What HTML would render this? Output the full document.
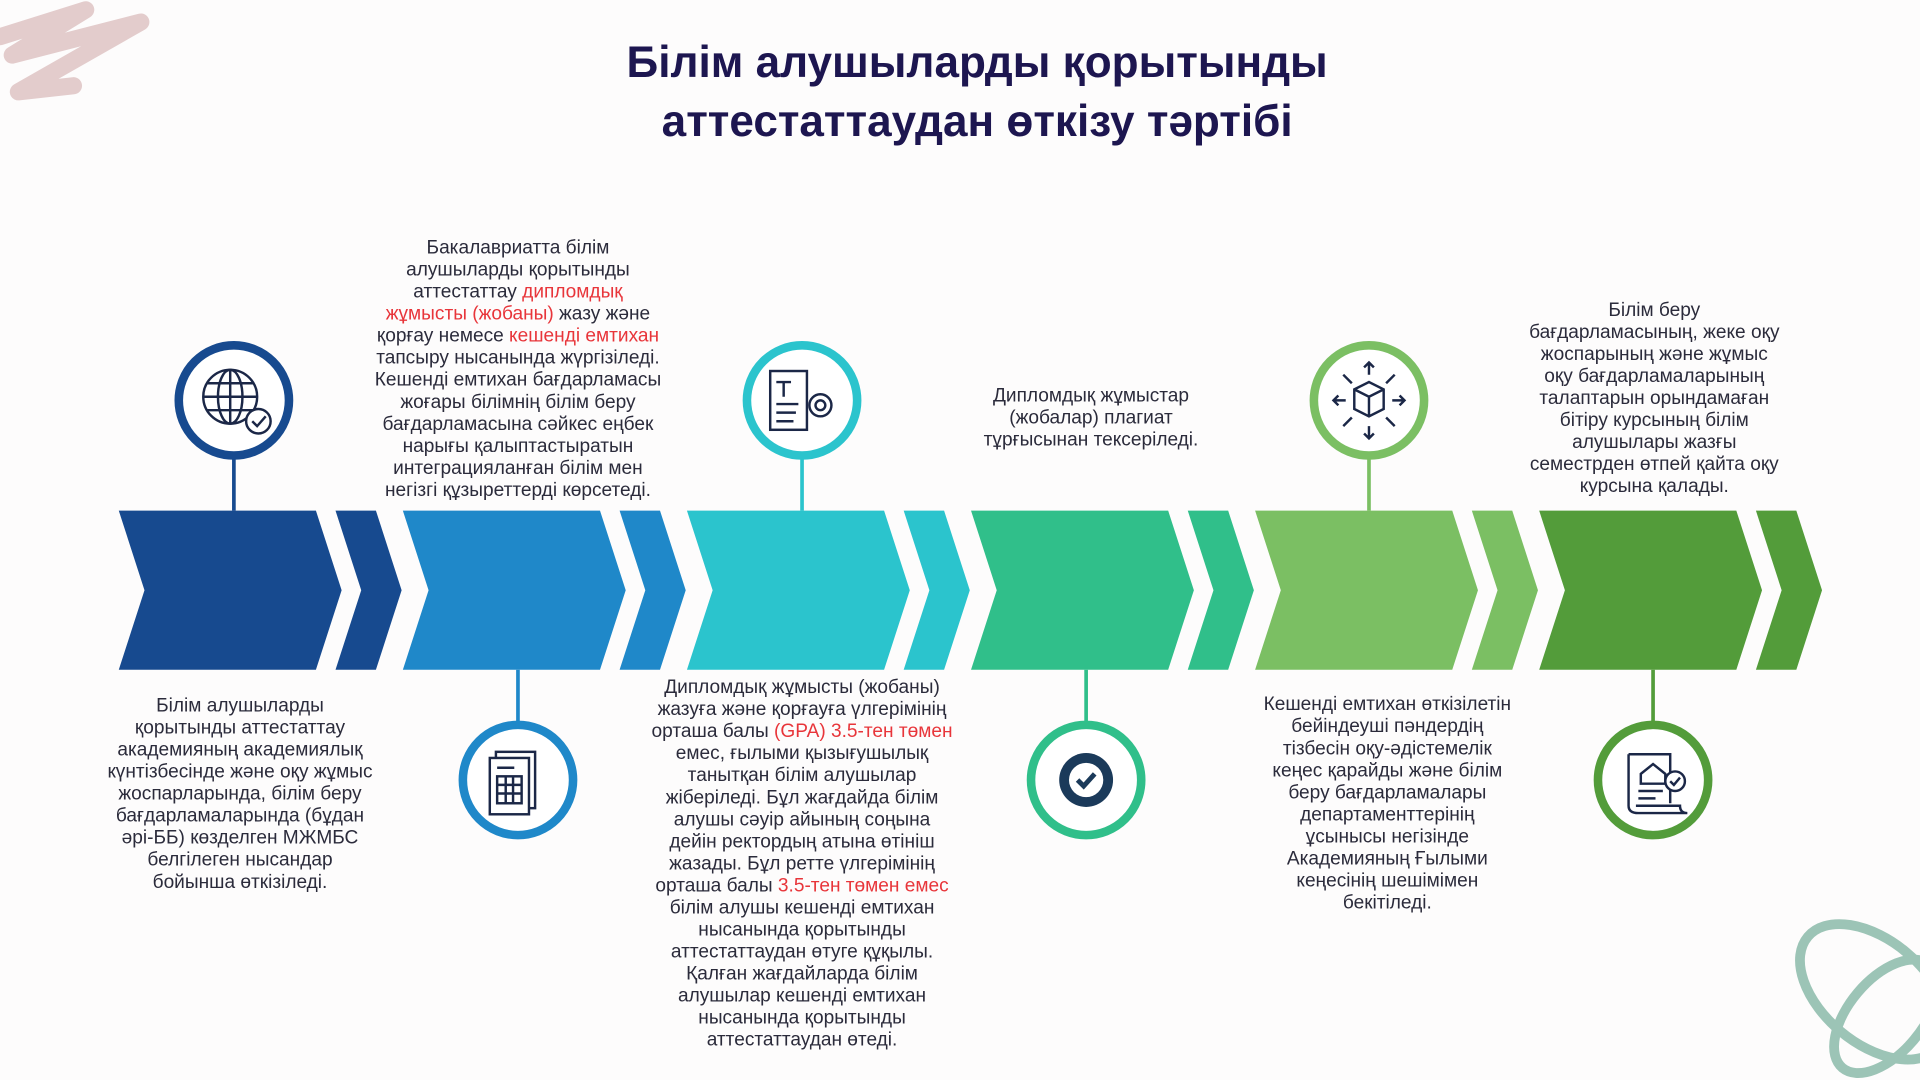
<!DOCTYPE html>
<html><head><meta charset="utf-8">
<style>
html,body{margin:0;padding:0;width:1920px;height:1080px;overflow:hidden;background:#fdfcfc;}
#s{position:absolute;left:0;top:0;width:1568px;height:882px;transform:scale(1.22449);transform-origin:0 0;font-family:"Liberation Sans","DejaVu Sans",sans-serif;}
.t{position:absolute;text-align:center;white-space:nowrap;font-size:15.6px;line-height:18px;color:#2b2b3b;transform:translateX(-50%);}
.r{color:#e8353a;}
h1{position:absolute;left:0;width:1596px;top:27px;margin:0;text-align:center;font-size:36px;line-height:48px;font-weight:bold;color:#1d1650;}
</style></head><body>
<div id="s">
<svg width="1568" height="882" style="position:absolute;left:0;top:0">
 <path d="M0 30 L70 8 L10 45 L115 18 L15 75 L60 70" fill="none" stroke="#e3cccc" stroke-width="14" stroke-linecap="round" stroke-linejoin="round"/>
 <g fill="none" stroke="#9cc4b6" stroke-width="8">
  <ellipse cx="1530" cy="810" rx="70" ry="42" transform="rotate(40 1530 810)"/>
  <ellipse cx="1540" cy="830" rx="55" ry="30" transform="rotate(-50 1540 830)"/>
 </g>
 <g>
  <path d="M97 417 L258 417 L279 482 L258 547 L97 547 L118 482Z" fill="#174a8f"/>
  <path d="M274 417 L307 417 L328 482 L307 547 L274 547 L295 482Z" fill="#174a8f"/>
  <path d="M329 417 L490 417 L511 482 L490 547 L329 547 L350 482Z" fill="#1f88c9"/>
  <path d="M506 417 L539 417 L560 482 L539 547 L506 547 L527 482Z" fill="#1f88c9"/>
  <path d="M561 417 L722 417 L743 482 L722 547 L561 547 L582 482Z" fill="#2bc4cd"/>
  <path d="M738 417 L771 417 L792 482 L771 547 L738 547 L759 482Z" fill="#2bc4cd"/>
  <path d="M793 417 L954 417 L975 482 L954 547 L793 547 L814 482Z" fill="#30bf8a"/>
  <path d="M970 417 L1003 417 L1024 482 L1003 547 L970 547 L991 482Z" fill="#30bf8a"/>
  <path d="M1025 417 L1186 417 L1207 482 L1186 547 L1025 547 L1046 482Z" fill="#7bbf63"/>
  <path d="M1202 417 L1235 417 L1256 482 L1235 547 L1202 547 L1223 482Z" fill="#7bbf63"/>
  <path d="M1257 417 L1418 417 L1439 482 L1418 547 L1257 547 L1278 482Z" fill="#539c3a"/>
  <path d="M1434 417 L1467 417 L1488 482 L1467 547 L1434 547 L1455 482Z" fill="#539c3a"/>
 </g>
 <g stroke-width="3">
  <line x1="191" y1="372" x2="191" y2="417" stroke="#174a8f"/>
  <line x1="655" y1="372" x2="655" y2="417" stroke="#2bc4cd"/>
  <line x1="1118" y1="372" x2="1118" y2="417" stroke="#7bbf63"/>
  <line x1="423" y1="547" x2="423" y2="592" stroke="#1f88c9"/>
  <line x1="887" y1="547" x2="887" y2="592" stroke="#30bf8a"/>
  <line x1="1350" y1="547" x2="1350" y2="592" stroke="#539c3a"/>
 </g>
 <g fill="#fff" stroke-width="7">
  <circle cx="191" cy="327" r="45" stroke="#174a8f"/>
  <circle cx="655" cy="327" r="45" stroke="#2bc4cd"/>
  <circle cx="1118" cy="327" r="45" stroke="#7bbf63"/>
  <circle cx="423" cy="637" r="45" stroke="#1f88c9"/>
  <circle cx="887" cy="637" r="45" stroke="#30bf8a"/>
  <circle cx="1350" cy="637" r="45" stroke="#539c3a"/>
 </g>
 <g fill="none" stroke="#1b2747" stroke-width="2">
  <circle cx="188" cy="324" r="22"/><ellipse cx="188" cy="324" rx="10" ry="22"/>
  <line x1="166" y1="324" x2="210" y2="324"/><line x1="188" y1="302" x2="188" y2="346"/>
  <path d="M169 313 H207 M169 335 H207"/>
  <circle cx="211" cy="344" r="10" fill="#fff"/><path d="M206 344 l4 4 l7 -8"/>
  <rect x="629" y="303" width="30" height="48"/><path d="M634 312 h12 M640 312 v12 M634 330 h18 M634 337 h16 M634 344 h14"/>
  <circle cx="670" cy="331" r="9"/><circle cx="670" cy="331" r="4"/>
  <path d="M1106 318 l12 -6 l12 6 v16 l-12 6 l-12 -6z M1106 318 l12 6 l12 -6 M1118 324 v16"/>
  <path d="M1118 296 v10 M1114 300 l4 -4 4 4 M1118 358 v-10 M1114 354 l4 4 4 -4 M1089 327 h10 M1093 323 l-4 4 4 4 M1147 327 h-10 M1143 323 l4 4 -4 4 M1097 306 l7 7 M1139 306 l-7 7 M1097 348 l7 -7 M1139 348 l-7 -7"/>
  <rect x="405" y="614" width="32" height="46"/><rect x="400" y="619" width="32" height="46" fill="#fff"/>
  <rect x="406" y="634" width="20" height="22"/><path d="M406 641 h20 M406 648 h20 M413 634 v22 M419 634 v22 M406 627 h14"/>
 </g>
 <g>
  <circle cx="887" cy="637" r="22" fill="#1b3a5a"/>
  <g fill="#1b3a5a"><rect x="873" y="623" width="28" height="28" transform="rotate(22.5 887 637)"/><rect x="873" y="623" width="28" height="28" transform="rotate(67.5 887 637)"/></g>
  <circle cx="887" cy="637" r="14" fill="#fff"/>
  <path d="M880 637 l5 5 l9 -10" stroke="#1b3a5a" stroke-width="4" fill="none"/>
 </g>
 <g fill="none" stroke="#1b2747" stroke-width="2">
  <path d="M1330 616 h34 v40 M1330 616 v42 q0 6 8 6 h40 q-6 0 -6 -6 h-36"/>
  <path d="M1340 632 l10 -8 l10 8 v8 h-20z M1338 646 h20 M1338 652 h14"/>
  <circle cx="1368" cy="638" r="8" fill="#fff"/><path d="M1364 638 l3 3 l5 -6"/>
 </g>
</svg>

<h1>Білім алушыларды қорытынды<br>аттестаттаудан өткізу тәртібі</h1>

<div class="t" style="left:423px;top:194px">Бакалавриатта білім<br>алушыларды қорытынды<br>аттестаттау <span class="r">дипломдық</span><br><span class="r">жұмысты (жобаны)</span> жазу және<br>қорғау немесе <span class="r">кешенді емтихан</span><br>тапсыру нысанында жүргізіледі.<br>Кешенді емтихан бағдарламасы<br>жоғары білімнің білім беру<br>бағдарламасына сәйкес еңбек<br>нарығы қалыптастыратын<br>интеграцияланған білім мен<br>негізгі құзыреттерді көрсетеді.</div>

<div class="t" style="left:891px;top:315px">Дипломдық жұмыстар<br>(жобалар) плагиат<br>тұрғысынан тексеріледі.</div>

<div class="t" style="left:1351px;top:245px">Білім беру<br>бағдарламасының, жеке оқу<br>жоспарының және жұмыс<br>оқу бағдарламаларының<br>талаптарын орындамаған<br>бітіру курсының білім<br>алушылары жазғы<br>семестрден өтпей қайта оқу<br>курсына қалады.</div>

<div class="t" style="left:196px;top:568px">Білім алушыларды<br>қорытынды аттестаттау<br>академияның академиялық<br>күнтізбесінде және оқу жұмыс<br>жоспарларында, білім беру<br>бағдарламаларында (бұдан<br>әрі-ББ) көзделген МЖМБС<br>белгілеген нысандар<br>бойынша өткізіледі.</div>

<div class="t" style="left:655px;top:553px">Дипломдық жұмысты (жобаны)<br>жазуға және қорғауға үлгерімінің<br>орташа балы <span class="r">(GPA) 3.5-тен төмен</span><br>емес, ғылыми қызығушылық<br>танытқан білім алушылар<br>жіберіледі. Бұл жағдайда білім<br>алушы сәуір айының соңына<br>дейін ректордың атына өтініш<br>жазады. Бұл ретте үлгерімінің<br>орташа балы <span class="r">3.5-тен төмен емес</span><br>білім алушы кешенді емтихан<br>нысанында қорытынды<br>аттестаттаудан өтуге құқылы.<br>Қалған жағдайларда білім<br>алушылар кешенді емтихан<br>нысанында қорытынды<br>аттестаттаудан өтеді.</div>

<div class="t" style="left:1133px;top:567px">Кешенді емтихан өткізілетін<br>бейіндеуші пәндердің<br>тізбесін оқу-әдістемелік<br>кеңес қарайды және білім<br>беру бағдарламалары<br>департаменттерінің<br>ұсынысы негізінде<br>Академияның Ғылыми<br>кеңесінің шешімімен<br>бекітіледі.</div>
</div>
</body></html>
